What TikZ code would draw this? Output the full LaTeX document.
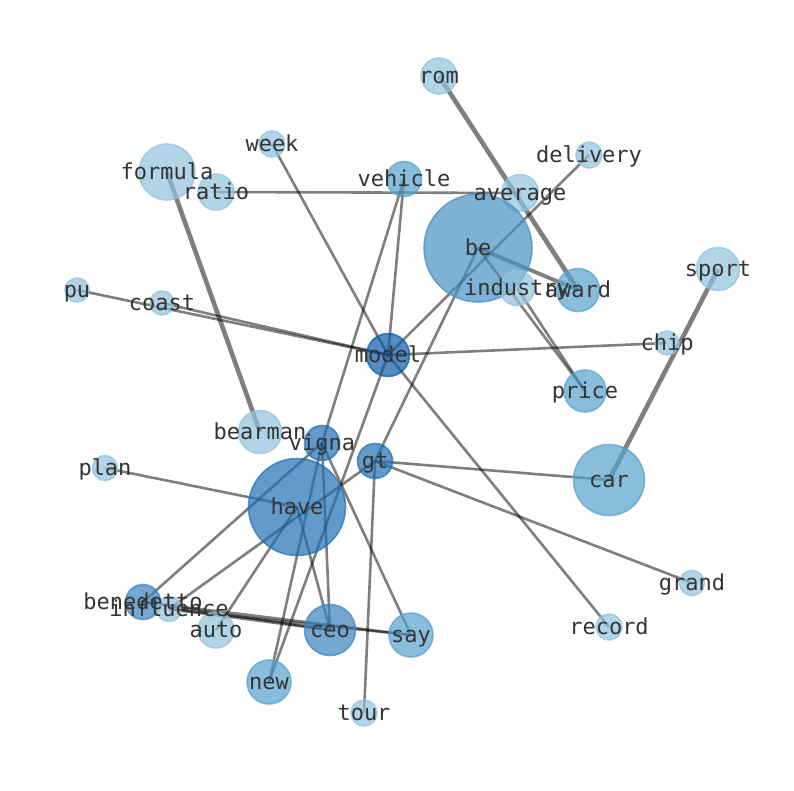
\documentclass[tikz,border=0pt]{standalone}
\usepackage{fontspec}
\setmonofont{DejaVu Sans Mono}
\pgfdeclarelayer{edges}
\pgfdeclarelayer{labels}
\pgfsetlayers{edges,main,labels}
\definecolor{lightc}{RGB}{146,195,222}
\definecolor{medc}{RGB}{86,162,206}
\definecolor{bec}{RGB}{71,145,196}
\definecolor{ceoc}{RGB}{58,132,191}
\definecolor{havec}{RGB}{32,112,179}
\definecolor{modelc}{RGB}{10,90,170}
\definecolor{labelc}{RGB}{52,52,52}
\tikzset{
  gcirc/.style={circle, inner sep=0pt, outer sep=0pt, line width=1.6pt, fill opacity=0.7, draw opacity=0.7},
  glab/.style={font=\ttfamily\fontsize{22}{26}\selectfont, text=labelc, inner sep=0pt, text height=15pt, text depth=0pt},
  gedge/.style={draw=black, draw opacity=0.5, line width=2.6pt},
  heavyedge/.style={gedge, line width=4.6pt},
}
\newcommand{\gn}[6]{%
  \node[gcirc, fill=#5, draw=#5, minimum size=#4pt] (#1) at (#2,#3) {};
  \begin{pgfonlayer}{labels}\node[glab] (t#1) at (#2,#3) {#6};\end{pgfonlayer}}
\begin{document}
\begin{tikzpicture}[x=1pt,y=-1pt]
\useasboundingbox (0,0) rectangle (794,790);
\begin{pgfonlayer}{edges}
\fill[white] (0,0) rectangle (794,790);
\end{pgfonlayer}
% nodes
\gn{rom}{439}{76}{36}{lightc}{rom}
\gn{week}{272}{144}{26}{lightc}{week}
\gn{formula}{167}{172}{56}{lightc}{formula}
\gn{ratio}{216}{192}{36}{lightc}{ratio}
\gn{vehicle}{404}{179}{35}{medc}{vehicle}
\gn{delivery}{589}{155}{26}{lightc}{delivery}
\gn{average}{520}{193}{37}{lightc}{average}
\gn{be}{478}{248}{108}{bec}{be}
\gn{industry}{517}{288}{35}{lightc}{industry}
\gn{award}{578}{290}{43}{medc}{award}
\gn{sport}{718}{269}{43}{lightc}{sport}
\gn{pu}{77}{290}{24}{lightc}{pu}
\gn{coast}{162}{303}{24}{lightc}{coast}
\gn{model}{388}{355}{43}{modelc}{model}
\gn{chip}{667}{343}{24}{lightc}{chip}
\gn{price}{585}{391}{42}{medc}{price}
\gn{bearman}{260}{432}{43}{lightc}{bearman}
\gn{vigna}{322}{443}{35}{havec}{vigna}
\gn{gt}{375}{461}{35}{havec}{gt}
\gn{plan}{105}{468}{25}{lightc}{plan}
\gn{have}{297}{507}{97}{havec}{have}
\gn{car}{609}{480}{71}{medc}{car}
\gn{grand}{692}{583}{25}{lightc}{grand}
\gn{benedetto}{143}{602}{35}{ceoc}{benedetto}
\gn{influence}{169}{609}{25}{lightc}{influence}
\gn{auto}{216}{630}{36}{lightc}{auto}
\gn{ceo}{330}{630}{51}{ceoc}{ceo}
\gn{say}{411}{635}{44}{medc}{say}
\gn{record}{609}{627}{26}{lightc}{record}
\gn{new}{269}{682}{44}{medc}{new}
\gn{tour}{364}{713}{26}{lightc}{tour}
% edges
\begin{pgfonlayer}{edges}
\draw[gedge] (ratio.center) -- (average.center);
\draw[heavyedge] (formula.center) -- (bearman.center);
\draw[gedge] (week.center) -- (model.center);
\draw[gedge] (vehicle.center) -- (model.center);
\draw[gedge] (vehicle.center) -- (vigna.center);
\draw[gedge, line width=3.8pt] (be.center) -- (award.center);
\draw[gedge] (be.center) -- (price.center);
\draw[gedge] (industry.center) -- (price.center);
\draw[gedge] (model.center) -- (delivery.center);
\draw[gedge] (gt.center) -- (be.center);
\draw[heavyedge] (rom.center) -- (award.center);
\draw[gedge] (model.center) -- (chip.center);
\draw[gedge] (pu.center) -- (model.center);
\draw[gedge] (coast.center) -- (model.center);
\draw[gedge] (model.center) -- (record.center);
\draw[heavyedge] (sport.center) -- (car.center);
\draw[gedge] (gt.center) -- (car.center);
\draw[gedge] (gt.center) -- (grand.center);
\draw[gedge] (gt.center) -- (tour.center);
\draw[gedge] (influence.center) -- (gt.center);
\draw[gedge] (plan.center) -- (have.center);
\draw[gedge] (auto.center) -- (have.center);
\draw[gedge] (new.center) -- (vigna.center);
\draw[gedge] (model.center) -- (new.center);
\draw[gedge] (have.center) -- (ceo.center);
\draw[gedge] (vigna.center) -- (ceo.center);
\draw[gedge] (vigna.center) -- (say.center);
\draw[gedge] (benedetto.center) -- (vigna.center);
\draw[gedge] (benedetto.center) -- (ceo.center);
\draw[gedge] (benedetto.center) -- (say.center);
\draw[gedge] (influence.center) -- (ceo.center);
\draw[gedge] (influence.center) -- (say.center);
\end{pgfonlayer}
\end{tikzpicture}
\end{document}
